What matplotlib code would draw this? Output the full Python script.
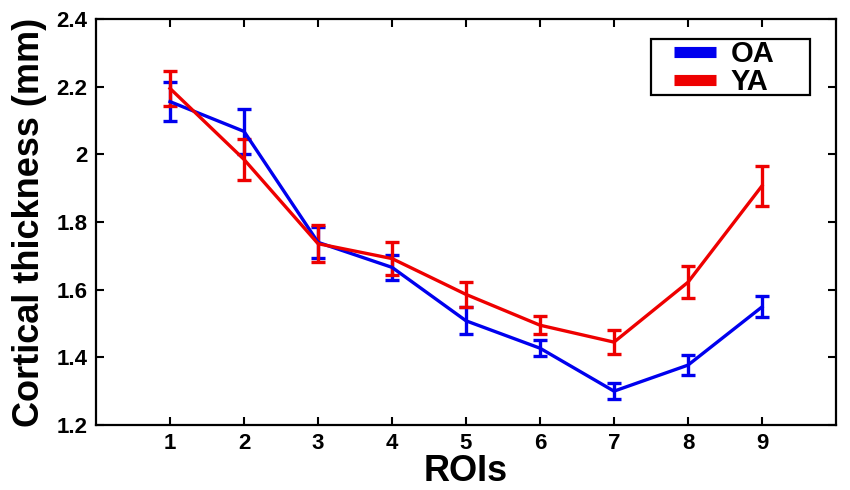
import matplotlib
matplotlib.use("Agg")
import matplotlib.pyplot as plt
from matplotlib.ticker import FuncFormatter
from matplotlib.lines import Line2D
from matplotlib.patches import Rectangle

rois = [1, 2, 3, 4, 5, 6, 7, 8, 9]
oa_mean = [2.156, 2.068, 1.740, 1.666, 1.508, 1.427, 1.300, 1.377, 1.549]
oa_err = [0.058, 0.066, 0.045, 0.038, 0.040, 0.023, 0.024, 0.030, 0.031]
ya_mean = [2.195, 1.985, 1.736, 1.692, 1.586, 1.495, 1.445, 1.622, 1.907]
ya_err = [0.052, 0.060, 0.055, 0.050, 0.038, 0.027, 0.035, 0.047, 0.060]
yticks = [1.2, 1.4, 1.6, 1.8, 2.0, 2.2, 2.4]
series_names = ['OA', 'YA']
colors = ['#0000ee', '#ee0000']

plt.rcParams['font.family'] = ['Liberation Sans', 'DejaVu Sans']
plt.rcParams['font.weight'] = 'bold'

fig = plt.figure(figsize=(8.5, 4.9), dpi=100)
ax = fig.add_axes([0.113, 0.1327, 0.8705, 0.8283])

for mean, err, c, name in zip([oa_mean, ya_mean], [oa_err, ya_err], colors, series_names):
    ax.errorbar(rois, mean, yerr=err, color=c, lw=2.4,
                elinewidth=2.4, capsize=5, capthick=2.4, label=name)

ax.set_xlim(0, 10)
ax.set_ylim(1.2, 2.4)
ax.set_xticks(rois)
ax.set_yticks(yticks)
ax.yaxis.set_major_formatter(FuncFormatter(lambda v, p: f"{v:g}"))
ax.tick_params(direction='in', length=6, width=1.5, top=True, right=True,
               labelsize=16, pad=6)
for lab in ax.get_xticklabels() + ax.get_yticklabels():
    lab.set_fontweight('bold')
for s in ax.spines.values():
    s.set_linewidth(1.6)

ax.set_xlabel('ROIs', fontsize=26, fontweight='bold', labelpad=0)
ax.set_ylabel('Cortical thickness (mm)', fontsize=26, fontweight='bold', labelpad=7)

# legend frame (drawn separately to match the wide box)
ax.add_patch(Rectangle((0.75, 0.813), 0.215, 0.138, transform=ax.transAxes,
                       fill=True, facecolor='white', edgecolor='black', lw=1.6,
                       zorder=5))
handles = [Line2D([0], [0], color=c, lw=8, solid_capstyle='butt') for c in colors]
leg = ax.legend(handles, series_names, loc='upper left',
                bbox_to_anchor=((674 - 96) / 740, (425 - 40) / 406),
                fontsize=21, frameon=False, handlelength=1.45,
                handletextpad=0.5, borderpad=0, labelspacing=0.0,
                borderaxespad=0)
leg.set_zorder(6)
for t in leg.get_texts():
    t.set_fontweight('bold')

fig.savefig('out.png', dpi=100)
